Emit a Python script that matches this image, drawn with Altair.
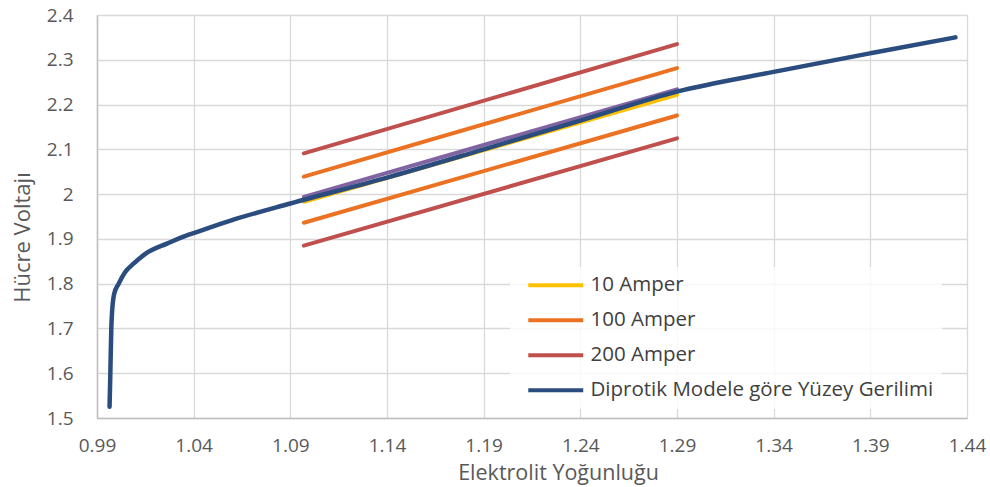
import altair as alt
import pandas as pd

# ---- data ----
x_ticks = [0.99, 1.04, 1.09, 1.14, 1.19, 1.24, 1.29, 1.34, 1.39, 1.44]
y_ticks = [1.5, 1.6, 1.7, 1.8, 1.9, 2.0, 2.1, 2.2, 2.3, 2.4]

series_names = ["10 Amper", "100 Amper", "200 Amper", "Diprotik Modele göre Yüzey Gerilimi"]
series_colors = ["#FFC000", "#EB7223", "#C0504D", "#2B4C7E"]

seg_x = [1.097, 1.29]
amp10_y = [1.983, 2.222]
amp10_alt_y = [1.994, 2.234]       # purple companion line (not in legend)
amp100_upper_y = [2.039, 2.2815]
amp100_lower_y = [1.936, 2.1755]
amp200_upper_y = [2.091, 2.335]
amp200_lower_y = [1.885, 2.1245]

model_x = [0.9965, 0.9969, 0.9974, 0.99775, 0.9989, 1.0012, 1.0046, 1.0089, 1.0150,
           1.0265, 1.0365, 1.04, 1.0606, 1.09, 1.14, 1.19, 1.24, 1.29, 1.34, 1.39, 1.434]
model_y = [1.525, 1.600, 1.700, 1.7335, 1.7777, 1.800, 1.826, 1.8446, 1.8665,
           1.890, 1.908, 1.913, 1.943, 1.979, 2.037, 2.100, 2.164, 2.229, 2.273, 2.3145, 2.350]

# ---- tables ----
rows = []
for name, sid, ys in [("10 Amper", "a10", amp10_y),
                      ("100 Amper", "a100u", amp100_upper_y),
                      ("100 Amper", "a100l", amp100_lower_y),
                      ("200 Amper", "a200u", amp200_upper_y),
                      ("200 Amper", "a200l", amp200_lower_y)]:
    for xv, yv in zip(seg_x, ys):
        rows.append({"x": xv, "y": yv, "series": name, "line": sid})
seg_df = pd.DataFrame(rows)
purple_df = pd.DataFrame({"x": seg_x, "y": amp10_alt_y})
model_df = pd.DataFrame({"x": model_x, "y": model_y,
                         "series": [series_names[3]] * len(model_x)})

FONT = "Open Sans"
GREY = "#595959"

xscale = alt.Scale(domain=[0.99, 1.44], nice=False, zero=False)
yscale = alt.Scale(domain=[1.5, 2.4], nice=False, zero=False)
color_scale = alt.Scale(domain=series_names, range=series_colors)

xaxis = alt.Axis(values=x_ticks, format=".2f", title="Elektrolit Yoğunluğu",
                 grid=True, gridColor="#d9d9d9", gridWidth=1.3,
                 domainColor="#bfbfbf", domainWidth=1.5, ticks=False, labelFlush=False,
                 labelFont=FONT, labelFontSize=19, labelColor=GREY, labelPadding=18,
                 titleFont=FONT, titleFontSize=21.5, titleFontWeight="normal", titleColor=GREY,
                 titleX=461, titleY=61, titleBaseline="alphabetic", titleAnchor="start",
                 titleAlign="center")
yaxis = alt.Axis(values=y_ticks, labelExpr="format(datum.value, '.1~f')", title="Hücre Voltajı",
                 grid=True, gridColor="#d9d9d9", gridWidth=1.3, labelFlush=False,
                 domainColor="#bfbfbf", domainWidth=1.5, ticks=False,
                 labelFont=FONT, labelFontSize=19, labelColor=GREY, labelPadding=24,
                 titleFont=FONT, titleFontSize=22, titleFontWeight="normal", titleColor=GREY,
                 titleX=-75, titleY=222, titleAngle=-90, titleAlign="center",
                 titleBaseline="middle")

legend = alt.Legend(title=None, orient="none", legendX=413, legendY=252,
                    symbolType="M0,0H20", symbolSize=30.25, symbolStrokeWidth=4,
                    labelFont=FONT, labelFontSize=20.5, labelColor="#404040", labelLimit=0,
                    labelOffset=52, rowPadding=14, padding=8,
                    fillColor="rgba(255,255,255,0.8)")

seg_layer = alt.Chart(seg_df).mark_line(strokeWidth=4, strokeCap="round").encode(
    x=alt.X("x:Q", scale=xscale, axis=xaxis),
    y=alt.Y("y:Q", scale=yscale, axis=yaxis),
    color=alt.Color("series:N", scale=color_scale, legend=legend),
    detail="line:N",
)
purple_layer = alt.Chart(purple_df).mark_line(strokeWidth=4, strokeCap="round", color="#8064A2").encode(
    x=alt.X("x:Q", scale=xscale),
    y=alt.Y("y:Q", scale=yscale),
)
model_layer = alt.Chart(model_df).mark_line(strokeWidth=4.5, strokeCap="round",
                                            interpolate="monotone").encode(
    x=alt.X("x:Q", scale=xscale),
    y=alt.Y("y:Q", scale=yscale),
    color=alt.Color("series:N", scale=color_scale, legend=legend),
)

chart = alt.layer(seg_layer, purple_layer, model_layer).properties(
    width=870, height=403,
    autosize=alt.AutoSizeParams(type="none"),
    padding={"left": 97, "top": 15, "right": 23, "bottom": 69},
).configure_view(stroke=None).configure(background="white")

chart.save("out.html", embed_options={"renderer": "svg", "actions": False})
